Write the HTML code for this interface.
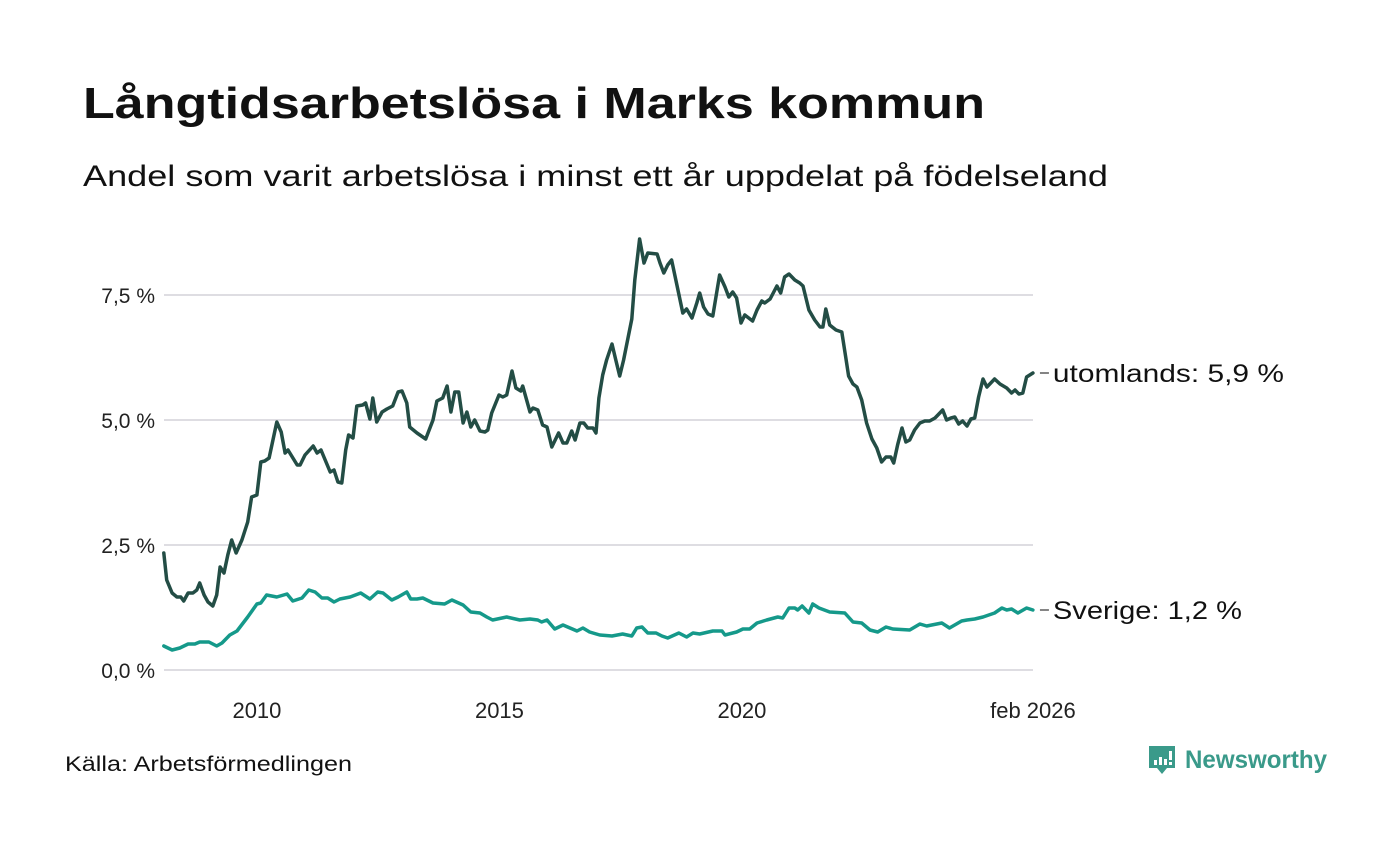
<!DOCTYPE html>
<html><head><meta charset="utf-8">
<style>
html,body{margin:0;padding:0;background:#fff;}
body{width:1400px;height:840px;overflow:hidden;font-family:"Liberation Sans",sans-serif;}
svg text{font-family:"Liberation Sans","DejaVu Sans",sans-serif;}
</style></head>
<body>
<svg id="chart" width="1400" height="840" viewBox="0 0 1400 840">
  <text x="83" y="118" font-size="44" font-weight="bold" fill="#111" textLength="902" lengthAdjust="spacingAndGlyphs">Långtidsarbetslösa i Marks kommun</text>
  <text x="83" y="186" font-size="30" fill="#111" textLength="1025" lengthAdjust="spacingAndGlyphs">Andel som varit arbetslösa i minst ett år uppdelat på födelseland</text>
  <g id="grid"></g>
  <g id="yticks"></g>
  <g id="xticks"></g>
  <g id="series"></g>
  <text x="65" y="771" font-size="21" fill="#111" textLength="287" lengthAdjust="spacingAndGlyphs">Källa: Arbetsförmedlingen</text>
  <g>
    <path d="M1149 746 h26 v22 h-8 l-5 6 l-5 -6 h-8 z" fill="#3a9a8a"/>
    <rect x="1154" y="760" width="3" height="5" fill="#fff"/>
    <rect x="1159" y="757" width="3" height="8" fill="#fff"/>
    <rect x="1164" y="759" width="3" height="6" fill="#fff"/>
    <rect x="1169" y="751" width="3" height="9" fill="#fff"/>
    <rect x="1169" y="762" width="3" height="3" fill="#fff"/>
    <text x="1185" y="768" font-size="25" font-weight="bold" fill="#3a9a8a" textLength="142" lengthAdjust="spacingAndGlyphs">Newsworthy</text>
  </g>
</svg>
<script>
const yTicks = [0, 2.5, 5, 7.5];
const yTickLabels = ["0,0 %", "2,5 %", "5,0 %", "7,5 %"];
const xTicks = [2009.71, 2014.71, 2019.71, 2025.71];
const xTickLabels = ["2010", "2015", "2020", "feb 2026"];

const utlDates = [
2007.79,2007.85,2007.96,2008.06,2008.14,2008.20,2008.29,2008.39,2008.47,2008.53,2008.62,2008.70,2008.80,2008.88,2008.95,2009.03,2009.11,2009.19,2009.28,2009.40,2009.52,2009.60,2009.71,2009.79,2009.87,2009.96,
2010.12,2010.21,2010.29,2010.35,2010.54,2010.60,2010.70,2010.87,2010.95,2011.03,2011.22,2011.30,2011.38,2011.46,2011.54,2011.60,2011.69,2011.77,2011.89,2011.95,
2012.04,2012.10,2012.18,2012.29,2012.39,2012.51,2012.62,2012.70,2012.80,2012.86,2013.01,2013.19,2013.34,2013.42,2013.54,2013.63,2013.71,2013.79,2013.87,2013.96,
2014.04,2014.12,2014.20,2014.31,2014.41,2014.47,2014.55,2014.70,2014.78,2014.86,2014.97,2015.05,2015.15,2015.19,2015.34,2015.40,2015.50,2015.60,2015.69,2015.79,2015.93,
2016.02,2016.10,2016.20,2016.27,2016.37,2016.45,2016.53,2016.64,2016.70,2016.76,2016.84,2016.92,2017.03,2017.11,2017.19,2017.27,2017.36,2017.44,2017.50,2017.60,2017.69,2017.77,2017.96,
2018.02,2018.10,2018.18,2018.26,2018.37,2018.49,2018.57,2018.68,2018.78,2018.84,2018.92,2019.01,2019.11,2019.25,2019.36,2019.44,2019.52,2019.60,2019.69,2019.77,2019.93,
2020.02,2020.12,2020.18,2020.29,2020.43,2020.51,2020.59,2020.68,2020.80,2020.90,2020.97,2021.09,2021.21,2021.32,2021.38,2021.44,2021.52,2021.65,2021.77,2021.85,2021.91,
2022.00,2022.08,2022.18,2022.28,2022.39,2022.49,2022.59,2022.68,2022.78,2022.84,2022.92,2023.01,2023.09,2023.17,2023.27,2023.38,2023.48,2023.58,2023.69,2023.75,2023.85,2023.93,
2024.02,2024.10,2024.18,2024.26,2024.35,2024.43,2024.51,2024.59,2024.68,2024.76,2024.92,2025.03,2025.17,2025.27,2025.34,2025.42,2025.50,2025.58,2025.71];
const utlValues = [
2.34,1.8,1.54,1.46,1.46,1.38,1.54,1.54,1.6,1.74,1.5,1.36,1.28,1.5,2.06,1.94,2.3,2.6,2.34,2.6,2.96,3.46,3.5,4.16,4.18,4.24,
4.96,4.76,4.34,4.4,4.1,4.1,4.3,4.48,4.34,4.4,3.96,4.0,3.76,3.74,4.4,4.7,4.64,5.28,5.3,5.34,
5.02,5.44,4.96,5.16,5.22,5.28,5.56,5.58,5.34,4.86,4.74,4.62,5.0,5.38,5.44,5.68,5.16,5.56,5.56,4.94,
5.16,4.86,5.0,4.78,4.76,4.8,5.14,5.5,5.46,5.5,5.98,5.64,5.58,5.68,5.16,5.24,5.2,4.9,4.86,4.46,4.74,
4.54,4.54,4.78,4.6,4.94,4.94,4.84,4.84,4.74,5.44,5.9,6.2,6.52,6.2,5.88,6.2,6.64,7.02,7.8,8.62,8.14,8.34,8.32,
8.14,7.94,8.1,8.2,7.7,7.14,7.22,7.04,7.34,7.54,7.26,7.12,7.08,7.9,7.66,7.46,7.56,7.44,6.94,7.1,6.98,
7.2,7.38,7.34,7.42,7.68,7.54,7.86,7.92,7.8,7.74,7.68,7.2,7.0,6.86,6.86,7.22,6.9,6.8,6.76,6.26,5.88,
5.72,5.66,5.4,4.94,4.62,4.44,4.16,4.26,4.26,4.14,4.5,4.84,4.56,4.6,4.8,4.94,4.98,4.98,5.04,5.1,5.2,5.0,
5.04,5.06,4.92,4.98,4.88,5.02,5.04,5.46,5.82,5.66,5.82,5.72,5.64,5.54,5.6,5.52,5.54,5.86,5.94];

const sveDates = [
2007.79,2007.96,2008.12,2008.29,2008.43,2008.53,2008.72,2008.88,2008.99,2009.15,2009.30,2009.52,2009.71,2009.79,2009.91,2010.12,
2010.33,2010.45,2010.64,2010.78,2010.91,2011.05,2011.17,2011.30,2011.42,2011.63,2011.85,2012.04,2012.20,2012.31,2012.49,2012.62,2012.80,2012.88,2013.01,
2013.13,2013.34,2013.58,2013.73,2013.96,2014.12,2014.31,2014.45,2014.57,2014.86,2015.13,2015.34,2015.50,2015.58,2015.69,2015.85,2016.02,2016.31,2016.43,2016.57,2016.78,
2017.03,2017.25,2017.44,2017.54,2017.65,2017.77,2017.94,2018.06,2018.18,2018.41,2018.57,2018.70,2018.84,2019.11,2019.30,2019.36,2019.60,2019.73,2019.87,
2020.02,2020.22,2020.45,2020.55,2020.68,2020.80,2020.86,2020.95,2021.09,2021.17,2021.30,2021.52,2021.83,2022.00,2022.18,2022.35,2022.51,2022.68,2022.82,
2023.17,2023.38,2023.52,2023.83,2023.99,2024.24,2024.35,2024.51,2024.68,2024.92,2025.07,2025.17,2025.27,2025.40,2025.58,2025.71];
const sveValues = [
0.48,0.4,0.44,0.52,0.52,0.56,0.56,0.48,0.54,0.7,0.78,1.06,1.32,1.34,1.5,1.46,
1.52,1.38,1.44,1.6,1.56,1.44,1.44,1.36,1.42,1.46,1.54,1.42,1.56,1.54,1.4,1.46,1.56,1.42,1.42,
1.44,1.34,1.32,1.4,1.3,1.16,1.14,1.06,1.0,1.06,1.0,1.02,1.0,0.96,1.0,0.82,0.9,0.78,0.84,0.76,0.7,
0.68,0.72,0.68,0.84,0.86,0.74,0.74,0.68,0.64,0.74,0.66,0.74,0.72,0.78,0.78,0.7,0.76,0.82,0.82,
0.94,1.0,1.06,1.04,1.24,1.24,1.2,1.28,1.14,1.32,1.24,1.16,1.14,0.96,0.94,0.8,0.76,0.86,0.82,
0.8,0.92,0.88,0.94,0.84,0.98,1.0,1.02,1.06,1.14,1.24,1.2,1.22,1.14,1.24,1.2];

const seriesNames = ["utomlands", "Sverige"];
const seriesLabels = ["utomlands: 5,9 %", "Sverige: 1,2 %"];
const labelWidths = [231, 189];

const NS = "http://www.w3.org/2000/svg";
const xScale = t => 271 + (t - 2010) * 48.5;
const yScale = v => 670 - v * 50;
const X0 = 164, X1 = 1033;

function mk(tag, attrs, parent) {
  const e = document.createElementNS(NS, tag);
  for (const k in attrs) e.setAttribute(k, attrs[k]);
  parent.appendChild(e);
  return e;
}

const grid = document.getElementById('grid');
const yt = document.getElementById('yticks');
yTicks.forEach((v, i) => {
  const l = mk('line', {x1: X0, x2: X1, y1: yScale(v), y2: yScale(v), stroke: '#dedde2', 'stroke-width': 2}, grid);
  
  
  const t = mk('text', {x: 155, y: yScale(v) + 8, 'font-size': 21, fill: '#222', 'text-anchor': 'end'}, yt);
  t.textContent = yTickLabels[i];
  
  
});
const xt = document.getElementById('xticks');
xTicks.forEach((d, i) => {
  const t = mk('text', {x: xScale(d), y: 718, 'font-size': 22, fill: '#222', 'text-anchor': 'middle'}, xt);
  t.textContent = xTickLabels[i];
  
  
});

const sg = document.getElementById('series');
const all = [[utlDates, utlValues, '#234d45'], [sveDates, sveValues, '#15998a']];
all.forEach((s, i) => {
  const [ds, vs, col] = s;
  const d = ds.map((t, j) => (j ? 'L' : 'M') + xScale(t).toFixed(1) + ' ' + yScale(vs[j]).toFixed(1)).join(' ');
  const p = mk('path', {d: d, fill: 'none', stroke: col, 'stroke-width': 3.5, 'stroke-linejoin': 'round', 'stroke-linecap': 'round'}, sg);
  
  
  const lx = xScale(ds[ds.length - 1]), ly = yScale(vs[vs.length - 1]);
  const c = mk('line', {x1: lx + 7, x2: lx + 16, y1: ly, y2: ly, stroke: '#333', 'stroke-width': 1.2}, sg);
  
  
  const t = mk('text', {x: lx + 20, y: ly + 9, 'font-size': 25, fill: '#111', textLength: labelWidths[i], lengthAdjust: 'spacingAndGlyphs'}, sg);
  t.textContent = seriesLabels[i];
  
  
});
</script>
</body></html>
